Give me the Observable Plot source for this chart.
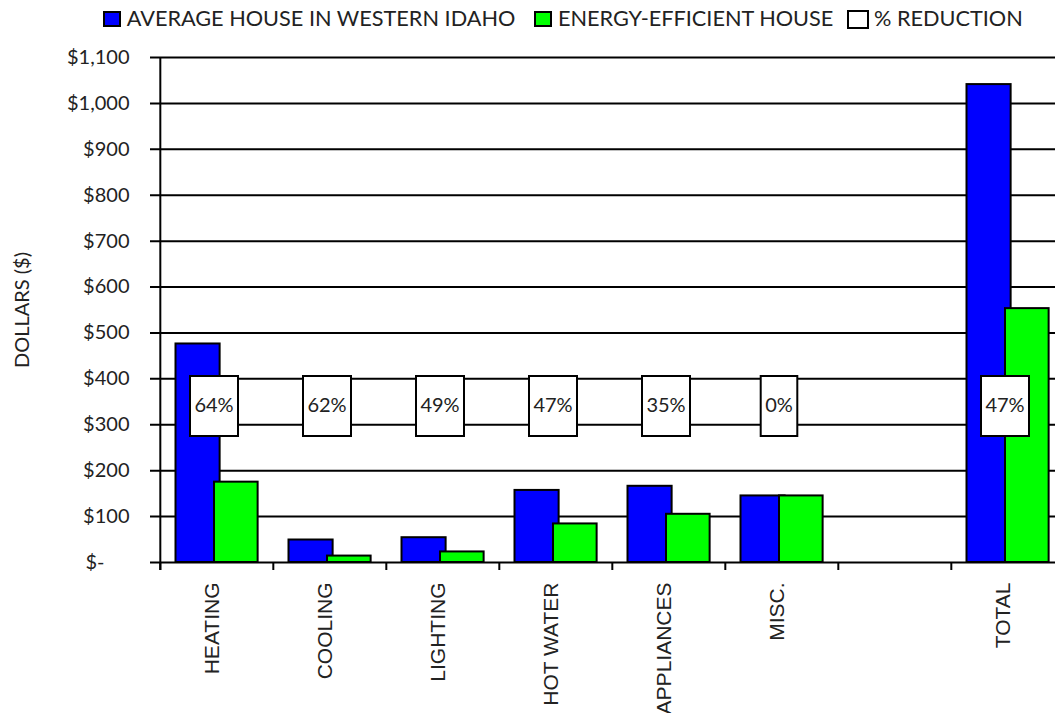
<!DOCTYPE html>
<html>
<head>
<meta charset="utf-8">
<script src="https://cdn.jsdelivr.net/npm/d3@7"></script>
<script src="https://cdn.jsdelivr.net/npm/@observablehq/plot@0.6"></script>
<style>
  body { margin: 0; background: #fff; }
  #legend { position: relative; width: 1055px; height: 38px; font-family: Lato, sans-serif; font-size: 21.7px; color: #222; }
  #legend .sw { position: absolute; box-sizing: border-box; border: 2px solid #000; }
  #legend .lt { position: absolute; top: 7.5px; line-height: 1; white-space: nowrap; }
  #chart svg { display: block; }
</style>
</head>
<body>
<div id="legend"></div>
<div id="chart"></div>
<script>
// ---- data ----
const categories = ["HEATING", "COOLING", "LIGHTING", "HOT WATER", "APPLIANCES", "MISC.", "", "TOTAL"];
const barCategories = ["HEATING", "COOLING", "LIGHTING", "HOT WATER", "APPLIANCES", "MISC.", "TOTAL"];
const averageHouse = [476, 49, 54, 157, 166, 145, 1041];
const efficientHouse = [175, 14, 23, 84, 105, 145, 553];
const reductionPct = [64, 62, 49, 47, 35, 0, 47];
const yTicks = [0, 100, 200, 300, 400, 500, 600, 700, 800, 900, 1000, 1100];
const seriesNames = ["AVERAGE HOUSE IN WESTERN IDAHO", "ENERGY-EFFICIENT HOUSE", "% REDUCTION"];
const seriesColors = ["#0000ff", "#00ff00", "#ffffff"];
const yAxisTitle = "DOLLARS ($)";

// ---- legend ----
const legend = document.getElementById("legend");
const legendLayout = [
  {sw: [103.3, 10.7, 17.4, 16.8], tx: 126.7},
  {sw: [534, 10.7, 18, 16.8], tx: 558},
  {sw: [847.3, 10, 21.4, 19.3], tx: 874}
];
seriesNames.forEach((name, i) => {
  const [l, t, w, h] = legendLayout[i].sw;
  const s = document.createElement("div");
  s.className = "sw";
  Object.assign(s.style, {left: l + "px", top: t + "px", width: w + "px", height: h + "px", background: seriesColors[i]});
  legend.appendChild(s);
  const tx = document.createElement("div");
  tx.className = "lt";
  tx.style.left = legendLayout[i].tx + "px";
  tx.textContent = name;
  legend.appendChild(tx);
});

// ---- chart ----
const rows = barCategories.map((c, i) => ({category: c, avg: averageHouse[i], eff: efficientHouse[i], pct: reductionPct[i]}));
const xRange = [158, 1065];
const bw = (xRange[1] - xRange[0]) / categories.length;
const labelY = 341;
const boxSymbol = (w, h) => ({
  draw(ctx) {
    ctx.moveTo(-w / 2, -h / 2);
    ctx.lineTo(w / 2, -h / 2);
    ctx.lineTo(w / 2, h / 2);
    ctx.lineTo(-w / 2, h / 2);
    ctx.closePath();
  }
});
const fmt = d => d === 0 ? "$-" : "$" + d3.format(",")(d);

const chart = Plot.plot({
  width: 1055,
  height: 675,
  marginLeft: 158,
  marginRight: 0,
  marginTop: 19,
  marginBottom: 151,
  style: {fontFamily: "Lato, sans-serif", fontSize: "20px", background: "#fff", color: "#222", overflow: "hidden"},
  x: {type: "band", domain: categories, range: xRange, padding: 0, axis: null},
  y: {domain: [0, 1100], axis: null},
  marks: [
    Plot.ruleY(yTicks, {y: d => d, stroke: "#000", strokeWidth: 2, insetLeft: -8}),
    Plot.barY(rows, {x: "category", y: "avg", fill: seriesColors[0], stroke: "#000", strokeWidth: 2, insetLeft: 15.5, insetRight: bw - 60}),
    Plot.barY(rows, {x: "category", y: "eff", fill: seriesColors[1], stroke: "#000", strokeWidth: 2, insetLeft: 54, insetRight: bw - 98}),
    Plot.ruleX(categories, {x: d => d, dx: -bw / 2, y1: 0, y2: 0, insetBottom: -8, stroke: "#000", strokeWidth: 2}),
    Plot.ruleX([categories[0]], {x: d => d, dx: -bw / 2, y1: 1100, y2: 0, insetBottom: -8, stroke: "#000", strokeWidth: 2}),
    Plot.dot(rows.filter(d => String(d.pct).length > 1), {x: "category", y: () => labelY, dx: -3, symbol: boxSymbol(48, 60), fill: "#fff", stroke: "#000", strokeWidth: 2}),
    Plot.dot(rows.filter(d => String(d.pct).length <= 1), {x: "category", y: () => labelY, dx: -3, symbol: boxSymbol(36.6, 60), fill: "#fff", stroke: "#000", strokeWidth: 2}),
    Plot.text(rows, {x: "category", y: () => labelY, dx: -3, text: d => d.pct + "%", fontSize: 20, fill: "#222"}),
    Plot.text(yTicks.filter(d => d > 0), {y: d => d, frameAnchor: "left", textAnchor: "end", dx: -29, text: fmt, fontSize: 20, fill: "#222"}),
    Plot.text([0], {y: d => d, frameAnchor: "left", textAnchor: "end", dx: -54, text: fmt, fontSize: 20, fill: "#222"}),
    Plot.text(barCategories, {x: d => d, text: d => d, frameAnchor: "bottom", dy: 20, dx: -5, rotate: -90, textAnchor: "end", lineAnchor: "middle", fontFamily: "Liberation Sans, Arial, sans-serif", fontSize: 21, fill: "#222"}),
    Plot.text([yAxisTitle], {text: d => d, frameAnchor: "left", dx: -135.5, rotate: -90, textAnchor: "middle", lineAnchor: "middle", fontSize: 20, fill: "#222"})
  ]
});
document.getElementById("chart").appendChild(chart);
</script>
</body>
</html>
